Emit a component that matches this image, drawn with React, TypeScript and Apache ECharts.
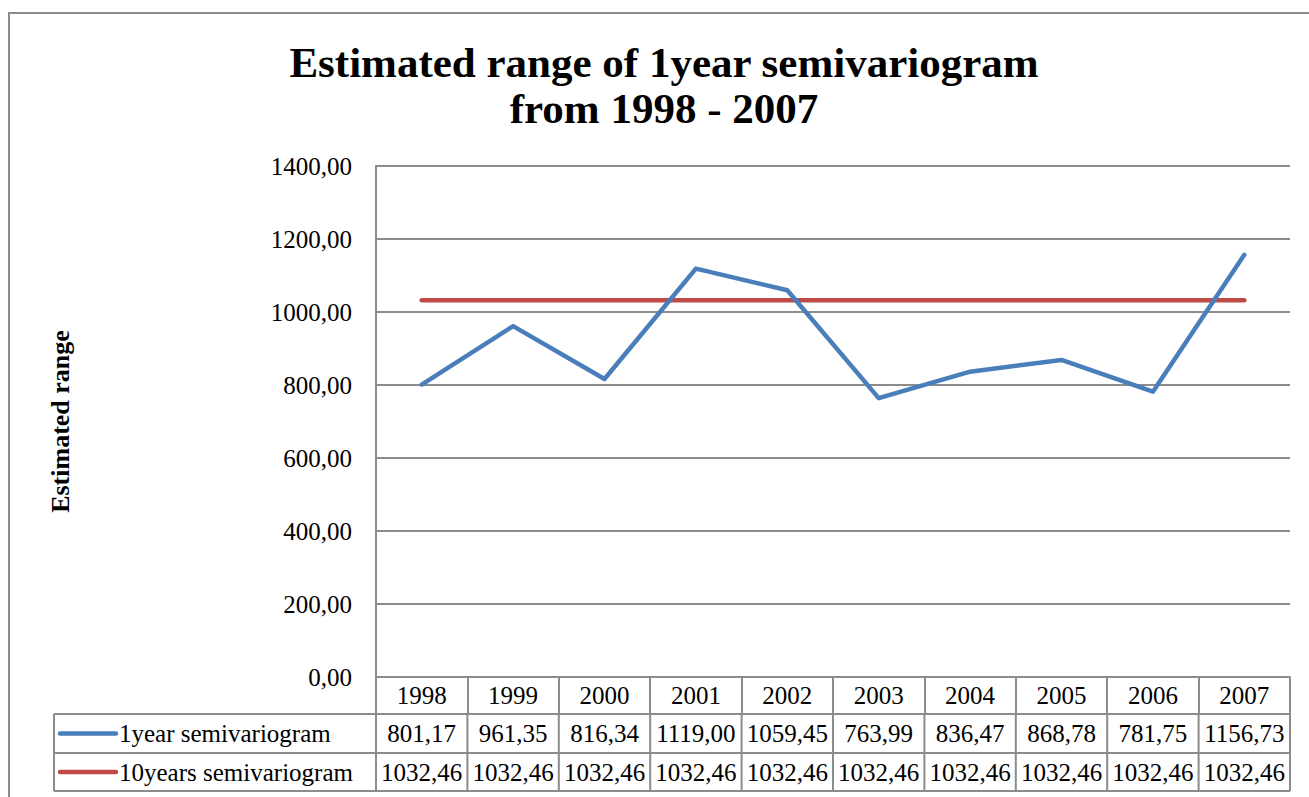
import React, { useEffect, useRef } from 'react';
import * as echarts from 'echarts';

const years = ['1998', '1999', '2000', '2001', '2002', '2003', '2004', '2005', '2006', '2007'];
const oneYear = [801.17, 961.35, 816.34, 1119.0, 1059.45, 763.99, 836.47, 868.78, 781.75, 1156.73];
const tenYears = [1032.46, 1032.46, 1032.46, 1032.46, 1032.46, 1032.46, 1032.46, 1032.46, 1032.46, 1032.46];
const seriesNames = ['1year semivariogram', '10years semivariogram'];
const seriesColors = ['#4A7EBB', '#BE4B48'];
const titleText = 'Estimated range of 1year semivariogram\nfrom 1998 - 2007';
const yAxisName = 'Estimated range';

const FONT = "'Liberation Serif', 'Times New Roman', serif";
const GRAY = '#8c8c8c';

const PLOT_L = 376;
const PLOT_R = 1290;
const PLOT_T = 166;
const PLOT_B = 677;
const HEAD_B = 714;
const ROW1_B = 753;
const ROW2_B = 791;
const TABLE_L = 54;
const W = 1309;
const H = 797;

const fmt = (v: number) => v.toFixed(2).replace('.', ',');

export default function App() {
  const ref = useRef<HTMLDivElement>(null);
  useEffect(() => {
    document.body.style.margin = '0';
    if (!ref.current) return;
    const chart = echarts.init(ref.current, undefined, { renderer: 'svg' });
    const colW = (PLOT_R - PLOT_L) / years.length;
    const rows = [
      { data: oneYear, top: HEAD_B, bottom: ROW1_B },
      { data: tenYears, top: ROW1_B, bottom: ROW2_B },
    ];
    const lineStyle = { stroke: GRAY, lineWidth: 2 };
    const textStyle = { fontFamily: FONT, fontSize: 25, fill: '#000', verticalAlign: 'middle' };
    const graphics: any[] = [];
    graphics.push({
      type: 'rect',
      shape: { x: 9, y: 13, width: 1400, height: 900 },
      style: { fill: 'none', stroke: GRAY, lineWidth: 2 },
      silent: true,
    });
    [HEAD_B, ROW1_B, ROW2_B].forEach((y) => {
      graphics.push({ type: 'line', shape: { x1: TABLE_L, y1: y, x2: PLOT_R, y2: y }, style: lineStyle, silent: true });
    });
    graphics.push({ type: 'line', shape: { x1: TABLE_L, y1: HEAD_B, x2: TABLE_L, y2: ROW2_B }, style: lineStyle, silent: true });
    for (let i = 0; i <= years.length; i++) {
      const x = PLOT_L + colW * i;
      graphics.push({ type: 'line', shape: { x1: x, y1: HEAD_B, x2: x, y2: ROW2_B }, style: lineStyle, silent: true });
    }
    rows.forEach((r, ri) => {
      const cy = (r.top + r.bottom) / 2;
      graphics.push({
        type: 'line',
        shape: { x1: 60, y1: cy, x2: 116, y2: cy },
        style: { stroke: seriesColors[ri], lineWidth: 4.5, lineCap: 'round' },
        silent: true,
      });
      graphics.push({
        type: 'text',
        x: 119,
        y: cy,
        style: { ...textStyle, text: seriesNames[ri], align: 'left' },
        silent: true,
      });
      r.data.forEach((v, i) => {
        graphics.push({
          type: 'text',
          x: PLOT_L + colW * (i + 0.5),
          y: cy,
          style: { ...textStyle, text: fmt(v), align: 'center' },
          silent: true,
        });
      });
    });

    chart.setOption({
      animation: false,
      backgroundColor: '#fff',
      title: {
        text: titleText,
        left: 664,
        top: 39,
        padding: 0,
        textAlign: 'center',
        textStyle: { fontFamily: FONT, fontSize: 43, fontWeight: 'bold', color: '#000', lineHeight: 46 },
      },
      grid: { left: PLOT_L, right: W - PLOT_R, top: PLOT_T, bottom: H - PLOT_B, containLabel: false },
      xAxis: {
        type: 'category',
        data: years,
        boundaryGap: true,
        axisLine: { show: true, lineStyle: { color: GRAY, width: 2 } },
        axisTick: { show: true, interval: 0, length: HEAD_B - PLOT_B, lineStyle: { color: GRAY, width: 2 } },
        axisLabel: { interval: 0, margin: 6, fontFamily: FONT, fontSize: 25, color: '#000' },
        splitLine: { show: false },
      },
      yAxis: {
        type: 'value',
        min: 0,
        max: 1400,
        interval: 200,
        name: yAxisName,
        nameLocation: 'middle',
        nameGap: 303,
        nameRotate: 90,
        nameTextStyle: { fontFamily: FONT, fontSize: 26, fontWeight: 'bold', color: '#000' },
        axisLine: { show: true, lineStyle: { color: GRAY, width: 2 } },
        axisTick: { show: false },
        axisLabel: { margin: 24, fontFamily: FONT, fontSize: 25, color: '#000', formatter: (v: number) => fmt(v) },
        splitLine: { show: true, lineStyle: { color: GRAY, width: 2 } },
      },
      series: [
        {
          name: seriesNames[0],
          type: 'line',
          data: oneYear,
          symbol: 'none',
          lineStyle: { color: seriesColors[0], width: 4.5, cap: 'round', join: 'round' },
          z: 3,
        },
        {
          name: seriesNames[1],
          type: 'line',
          data: tenYears,
          symbol: 'none',
          lineStyle: { color: seriesColors[1], width: 4.5, cap: 'round', join: 'round' },
          z: 2,
        },
      ],
      graphic: graphics,
    });
    return () => chart.dispose();
  }, []);
  return <div ref={ref} style={{ width: W, height: H }} />;
}
